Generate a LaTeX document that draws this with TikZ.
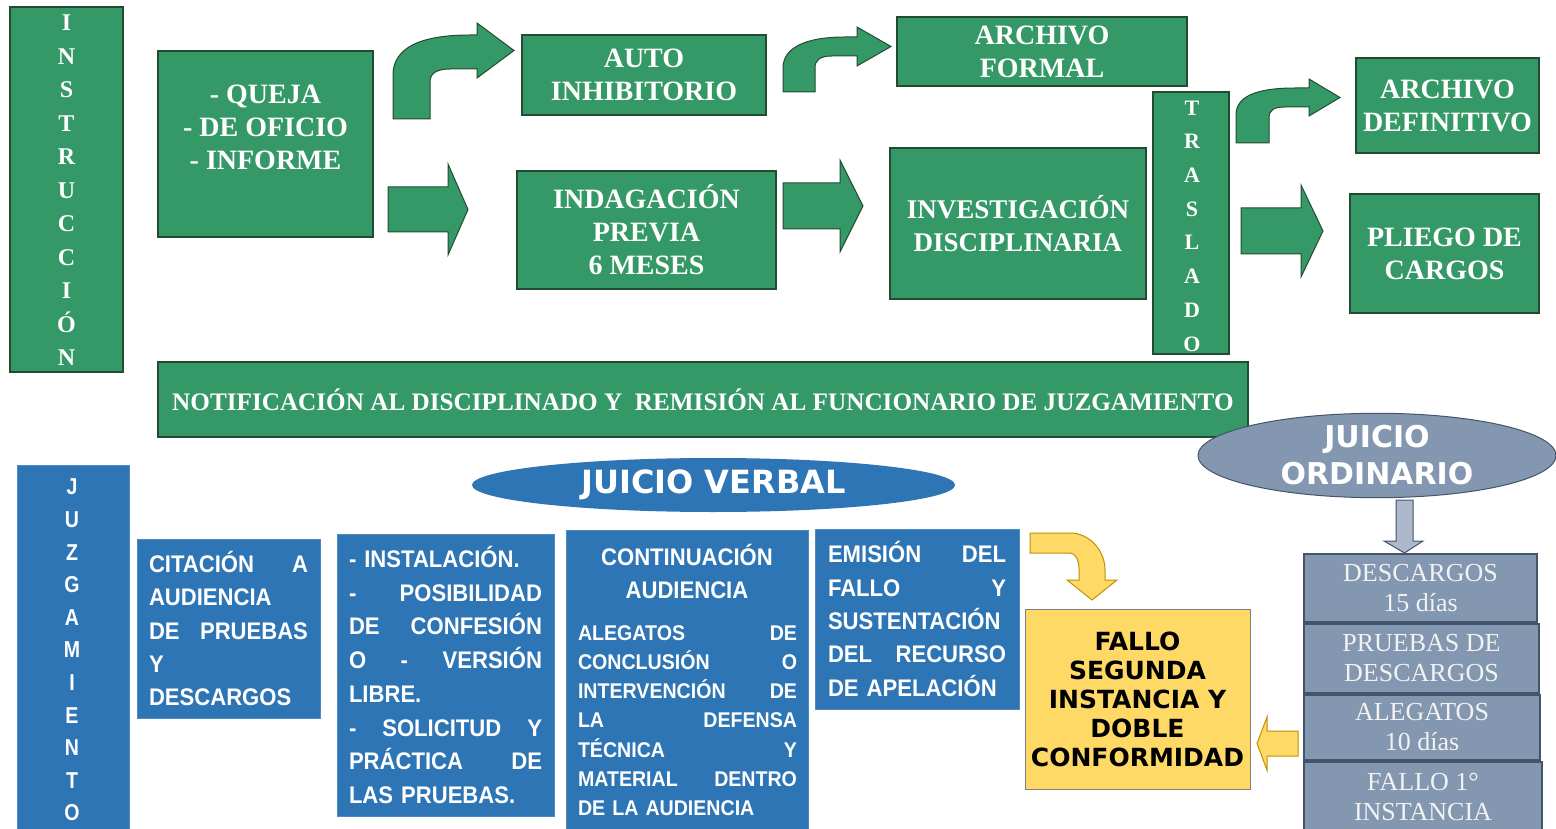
\documentclass[tikz,border=0pt]{standalone}
\usepackage{fontspec}
\setmainfont{Liberation Serif}
\newfontfamily\nsans{Liberation Sans}[FakeStretch=0.92]
\newfontfamily\jsans{Liberation Sans}[FakeStretch=0.85]
\newfontfamily\dvs{DejaVu Sans}
\usetikzlibrary{shapes.geometric}
\definecolor{gfill}{RGB}{52,153,102}
\definecolor{gedge}{RGB}{35,75,50}
\definecolor{bfill}{RGB}{46,117,182}
\definecolor{yfill}{RGB}{255,217,102}
\definecolor{yedge}{RGB}{191,144,0}
\definecolor{sfill}{RGB}{132,151,176}
\definecolor{sedge}{RGB}{68,84,106}
\definecolor{sarrow}{RGB}{173,185,202}
\definecolor{stext}{RGB}{242,242,242}
\newcommand\jl[2]{\makebox[#1]{#2}}
\tikzset{
 gbox/.style={draw=gedge, fill=gfill, line width=1.2pt, inner sep=0pt, text=white, align=center, font={\bfseries\fontsize{28pt}{33pt}\selectfont}},
 gtxt/.style={inner sep=0pt, text=white, align=center, font={\bfseries\fontsize{28pt}{33pt}\selectfont}},
 vtxt/.style={inner sep=0pt, text=white, align=center, font={\bfseries\fontsize{24pt}{33.5pt}\selectfont}},
 bbox/.style={fill=bfill, draw=bfill!85!white, line width=0.8pt, inner sep=0pt, text=white, font={\nsans\bfseries\fontsize{24pt}{33.4pt}\selectfont}},
 btxt/.style={inner sep=0pt, text=white, font={\nsans\bfseries\fontsize{24pt}{33pt}\selectfont}},
 bsmall/.style={inner sep=0pt, text=white, font={\nsans\bfseries\fontsize{21.3pt}{29.2pt}\selectfont}},
 sbox/.style={draw=sedge, fill=sfill, line width=1.5pt, inner sep=0pt, text=stext, align=center, font={\fontsize{26pt}{30pt}\selectfont}},
 garrow/.style={fill=gfill, draw=gedge, line width=1pt},
 yarrow/.style={fill=yfill, draw=yedge, line width=1pt},
 sarr/.style={fill=sarrow, draw=sedge, line width=1pt},
}
\begin{document}
\begin{tikzpicture}[x=1pt,y=-1pt]
\useasboundingbox (0,0) rectangle (1556,829);
\fill[white] (0,0) rectangle (1556,829);
% ---------- INSTRUCCION ----------
\node[gbox, minimum width=113, minimum height=365] (ins) at (66.5,189.5) {};
\node[vtxt] (inst-t) at (66.5,190.5) {I\\N\\S\\T\\R\\U\\C\\C\\I\\Ó\\N};
\node[gbox, minimum width=215, minimum height=186] (queja) at (265.5,144) {};
\node[gtxt] (queja-t) at (265.5,127) {- QUEJA\\- DE OFICIO\\- INFORME};
\node[gbox, minimum width=244, minimum height=80] (auto) at (644,75) {AUTO\\INHIBITORIO};
\node[gbox, minimum width=290, minimum height=69] (afor) at (1042,51.5) {ARCHIVO\\FORMAL};
\node[gbox, minimum width=259, minimum height=118] (indag) at (646.5,230) {INDAGACIÓN\\PREVIA\\6 MESES};
\node[gbox, minimum width=256, minimum height=151, font={\bfseries\fontsize{27pt}{33pt}\selectfont}] (inv) at (1018,223.5) {INVESTIGACIÓN\\DISCIPLINARIA};
\node[gbox, minimum width=76, minimum height=262] (tras) at (1191,223) {};
\node[vtxt, font={\bfseries\fontsize{22pt}{33.7pt}\selectfont}] (tras-t) at (1192,226) {T\\R\\A\\S\\L\\A\\D\\O};
\node[gbox, minimum width=183, minimum height=95] (adef) at (1447.5,105.5) {ARCHIVO\\DEFINITIVO};
\node[gbox, minimum width=189, minimum height=119] (pliego) at (1444.5,253.5) {PLIEGO DE\\CARGOS};
\node[gbox, minimum width=1090, minimum height=75, font={\bfseries\fontsize{25.2pt}{30pt}\selectfont}] (notif) at (703,399.5) {NOTIFICACIÓN AL DISCIPLINADO Y\ \ REMISIÓN AL FUNCIONARIO DE JUZGAMIENTO};
% green block arrows
\draw[garrow] (388,187) -- (448,187) -- (448,164) -- (468,209.5) -- (448,255) -- (448,232) -- (388,232) -- cycle;
\draw[garrow] (783,183) -- (840,183) -- (840,160) -- (863,206) -- (840,252) -- (840,229) -- (783,229) -- cycle;
\draw[garrow] (1241,208) -- (1301,208) -- (1301,185) -- (1323,231) -- (1301,277) -- (1301,254) -- (1241,254) -- cycle;
\draw[garrow] (393,119) -- (393,75) .. controls (393,48) and (420,35) .. (470,35) -- (477,35) -- (477,23) -- (514,50.5) -- (477,78) -- (477,69) -- (450,69) .. controls (437,69) and (430,73) .. (430,82) -- (430,119) -- cycle;
\draw[garrow] (783,92) -- (783,68) .. controls (783,48) and (805,37) .. (845,37) -- (857,37) -- (857,27) -- (891,46.5) -- (857,66) -- (857,56) -- (832,56) .. controls (820,56) and (815,60) .. (815,68) -- (815,92) -- cycle;
\draw[garrow] (1236,143) -- (1236,115) .. controls (1236,97) and (1255,88) .. (1295,88) -- (1309,88) -- (1309,79) -- (1340,97.5) -- (1309,116) -- (1309,107) -- (1285,107) .. controls (1274,107) and (1269,110) .. (1269,118) -- (1269,143) -- cycle;
% ---------- JUZGAMIENTO ----------
\node[bbox, minimum width=112, minimum height=370] (juz) at (73,650) {};
\node[inner sep=0pt, text=white, align=center, font={\jsans\bfseries\fontsize{23pt}{32.6pt}\selectfont}] (juz-t) at (72,650) {J\\U\\Z\\G\\A\\M\\I\\E\\N\\T\\O};
\node[ellipse, fill=bfill, minimum width=483, minimum height=54, inner sep=0pt, text=white, font={\dvs\bfseries\fontsize{32pt}{36pt}\selectfont}] (verbal) at (713.5,485) {JUICIO VERBAL};
\node[bbox, minimum width=183, minimum height=179, text width=159pt, align=left] (cit) at (228.5,628.5) {\jl{159pt}{CITACIÓN\hfill A}\\AUDIENCIA\\\jl{159pt}{DE\hfill PRUEBAS}\\Y\\DESCARGOS};
\node[bbox, minimum width=217, minimum height=282, text width=193pt, align=left, font={\nsans\bfseries\fontsize{24pt}{33.7pt}\selectfont}] (inst) at (445.5,675) {- INSTALACIÓN.\\\jl{193pt}{-\hfill POSIBILIDAD}\\\jl{193pt}{DE\hfill CONFESIÓN}\\\jl{193pt}{O\hfill -\hfill VERSIÓN}\\LIBRE.\\\jl{193pt}{-\hfill SOLICITUD\hfill Y}\\\jl{193pt}{PRÁCTICA\hfill DE}\\LAS PRUEBAS.};
\node[bbox, minimum width=242, minimum height=305] (cont) at (687,682.5) {};
\node[btxt, align=center] (cont-h) at (687,571.5) {CONTINUACIÓN\\AUDIENCIA};
\node[bsmall, text width=219pt, align=left] (cont-b) at (687.5,720.5) {\jl{219pt}{ALEGATOS\hfill DE}\\\jl{219pt}{CONCLUSIÓN\hfill O}\\\jl{219pt}{INTERVENCIÓN\hfill DE}\\\jl{219pt}{LA\hfill DEFENSA}\\\jl{219pt}{TÉCNICA\hfill Y}\\\jl{219pt}{MATERIAL\hfill DENTRO}\\DE LA AUDIENCIA};
\node[bbox, minimum width=204, minimum height=180, text width=178pt, align=left] (emi) at (917,619) {\jl{178pt}{EMISIÓN\hfill DEL}\\\jl{178pt}{FALLO\hfill Y}\\SUSTENTACIÓN\\\jl{178pt}{DEL\hfill RECURSO}\\DE APELACIÓN};
\node[draw=gray, fill=yfill, line width=1pt, minimum width=225, minimum height=180, inner sep=0pt, align=center, font={\dvs\bfseries\fontsize{25pt}{29pt}\selectfont}] (fallo2) at (1137.5,699) {FALLO\\SEGUNDA\\INSTANCIA Y\\DOBLE\\CONFORMIDAD};
% ---------- JUICIO ORDINARIO ----------
\node[ellipse, draw=sedge, fill=sfill, line width=1pt, minimum width=358, minimum height=84, inner sep=0pt, text=white, align=center, font={\dvs\bfseries\fontsize{30pt}{37pt}\selectfont}] (jo) at (1377,455.5) {JUICIO\\ORDINARIO};
\node[sbox, minimum width=233, minimum height=68] (desc) at (1420.5,588) {DESCARGOS\\15 días};
\node[sbox, minimum width=235, minimum height=69] (pru) at (1421.5,658.5) {PRUEBAS DE\\DESCARGOS};
\node[sbox, minimum width=236, minimum height=65] (ale) at (1422,727.5) {ALEGATOS\\10 días};
\node[sbox, minimum width=238, minimum height=70] (f1) at (1423,797) {FALLO 1°\\INSTANCIA};
\draw[sarr] (1396,500) -- (1413,500) -- (1413,541) -- (1423,541) -- (1404.5,553) -- (1384,541) -- (1396,541) -- cycle;
% yellow arrows
\draw[yarrow] (1030,533) -- (1070,533) .. controls (1089,533) and (1105,550) .. (1105,570) -- (1105,580) -- (1117,580) -- (1092,600) -- (1067,580) -- (1079,580) -- (1079,568) .. controls (1079,560) and (1075,553) .. (1070,553) -- (1030,553) -- cycle;
\draw[yarrow] (1298,731) -- (1267,731) -- (1267,717) -- (1257,743.5) -- (1267,770) -- (1267,756) -- (1298,756) -- cycle;
\end{tikzpicture}
\end{document}
